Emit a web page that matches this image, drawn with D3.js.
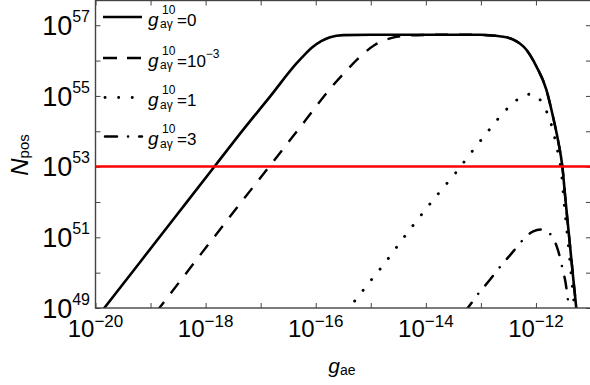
<!DOCTYPE html>
<html>
<head>
<meta charset="utf-8">
<script src="https://cdn.jsdelivr.net/npm/d3@7"></script>
<style>
body { margin: 0; background: #fff; }
svg { display: block; }
text { font-family: "Liberation Sans", Arial, sans-serif; fill: #000; }
</style>
</head>
<body>
<svg width="590" height="385"></svg>
<script>
// values are log10 exponents
const solidG = [-19.9, -18.5, -17.8, -17.32, -16.83, -16.35, -16.2, -16.05, -15.9, -15.74, -15.5, -15.0, -14.0, -13.0, -12.9, -12.66, -12.42, -12.17, -11.99, -11.81, -11.69, -11.6, -11.52, -11.46, -11.39, -11.32, -11.27, -11.25];
const solidN = [48.88, 51.68, 53.08, 54.04, 54.98, 55.92, 56.17, 56.39, 56.55, 56.66, 56.72, 56.73, 56.73, 56.73, 56.72, 56.69, 56.6, 56.3, 55.83, 55.17, 54.41, 53.75, 53.0, 52.0, 50.9, 49.8, 49.04, 48.7];

const dashedG = [-18.9, -17.5, -16.23, -15.74, -15.44, -15.2, -14.93, -14.6, -14.29, -13.8, -13.0, -12.9, -12.66, -12.42, -12.17, -11.99, -11.81, -11.69, -11.6, -11.52, -11.46, -11.39, -11.32, -11.27, -11.25];
const dashedN = [48.88, 51.7, 54.22, 55.2, 55.72, 56.1, 56.44, 56.65, 56.71, 56.73, 56.73, 56.72, 56.69, 56.6, 56.3, 55.83, 55.17, 54.41, 53.75, 53.0, 52.0, 50.9, 49.8, 49.04, 48.7];

const dottedG = [-15.45, -15.23, -15.08, -14.78, -14.3, -13.76, -13.46, -13.17, -12.87, -12.56, -12.39, -12.2, -12.08, -11.97, -11.84, -11.75, -11.68, -11.63, -11.58, -11.54, -11.49, -11.42, -11.35, -11.3, -11.28];
const dottedN = [48.9, 49.32, 49.62, 50.2, 51.2, 52.26, 52.82, 53.41, 54.0, 54.58, 54.83, 55.03, 55.05, 54.97, 54.67, 54.33, 53.96, 53.6, 53.24, 52.87, 52.0, 50.9, 49.8, 49.0, 48.7];

const dashDotG = [-13.3, -13.23, -13.04, -12.84, -12.65, -12.45, -12.24, -12.05, -11.9, -11.8, -11.72, -11.6, -11.52, -11.46, -11.41, -11.39];
const dashDotN = [48.88, 49.02, 49.42, 49.79, 50.17, 50.53, 50.92, 51.17, 51.22, 51.17, 51.05, 50.64, 50.13, 49.7, 49.1, 48.8];

const thresholdN = 53;

const xTickExp = [-20, -19, -18, -17, -16, -15, -14, -13, -12, -11];
const xLabelExp = ["−20", "−18", "−16", "−14", "−12"];
const yTickExp = [49, 50, 51, 52, 53, 54, 55, 56, 57];
const yLabelExp = ["49", "51", "53", "55", "57"];

const legendValues = [["=0", ""], ["=10", "−3"], ["=1", ""], ["=3", ""]];
const dashes = ["none", "13,11", "0.1,13.5", "12,11,0.1,11"];

const svg = d3.select("svg");
const plotL = 95.5, plotR = 591, plotT = 0.5, plotB = 308;

const x = d3.scaleLog().domain([1e-20, 1e-11]).range([plotL, plotR]);
const y = d3.scaleLog().domain([1e49, Math.pow(10, 57.7)]).range([plotB, plotT]);

const p10 = (e) => Math.pow(10, e);
const frameColor = "#444";

// ticks on all four sides, pointing inward
function ticks(axis, tx, ty, vals) {
	svg.append("g")
		.attr("transform", `translate(${tx},${ty})`)
		.call(axis.tickValues(vals).tickSize(-5).tickFormat(""))
		.call((g) => g.select(".domain").remove())
		.call((g) => g.selectAll("line").attr("stroke", frameColor).attr("stroke-width", 1));
}
ticks(d3.axisBottom(x), 0, plotB, xTickExp.map(p10));
ticks(d3.axisTop(x), 0, plotT, xTickExp.map(p10));
ticks(d3.axisLeft(y), plotL, 0, yTickExp.map(p10));
ticks(d3.axisRight(y), plotR, 0, yTickExp.map(p10));

svg.append("clipPath").attr("id", "clip")
	.append("rect").attr("x", plotL).attr("y", plotT)
	.attr("width", plotR - plotL).attr("height", plotB - plotT);

const line = d3.line()
	.x((d) => x(p10(d[0])))
	.y((d) => y(p10(d[1])))
	.curve(d3.curveMonotoneX);

const series = [
	[solidG, solidN],
	[dashedG, dashedN],
	[dottedG, dottedN],
	[dashDotG, dashDotN]
];
const widths = [2.6, 2.4, 2.9, 2.5];

const plot = svg.append("g").attr("clip-path", "url(#clip)");
series.forEach(([gs, ns], i) => {
	plot.append("path")
		.datum(gs.map((g, j) => [g, ns[j]]))
		.attr("d", line)
		.attr("fill", "none")
		.attr("stroke", "#000")
		.attr("stroke-width", widths[i])
		.attr("stroke-linecap", i >= 2 ? "round" : "butt")
		.attr("stroke-dasharray", dashes[i]);
});

plot.append("line")
	.attr("x1", plotL).attr("x2", plotR)
	.attr("y1", y(p10(thresholdN))).attr("y2", y(p10(thresholdN)))
	.attr("stroke", "#f00").attr("stroke-width", 2.5);

svg.append("rect")
	.attr("x", plotL).attr("y", plotT)
	.attr("width", plotR - plotL).attr("height", plotB - plotT)
	.attr("fill", "none").attr("stroke", frameColor).attr("stroke-width", 1.4);

// tick labels
xLabelExp.forEach((e) => {
	const v = +e.replace("−", "-");
	const t = svg.append("text")
		.attr("x", x(p10(v))).attr("y", 337)
		.attr("text-anchor", "middle");
	t.append("tspan").attr("font-size", 24).text("10");
	t.append("tspan").attr("font-size", 17).attr("dy", -10).text(e);
});

yLabelExp.forEach((e) => {
	const t = svg.append("text")
		.attr("x", 90).attr("y", y(p10(+e)) + 9.7)
		.attr("text-anchor", "end");
	t.append("tspan").attr("font-size", 27).text("10");
	t.append("tspan").attr("font-size", 16).attr("dy", -13).text(e);
});

// axis titles
const xt = svg.append("text").attr("x", 342).attr("y", 373).attr("text-anchor", "middle");
xt.append("tspan").attr("font-size", 21).attr("font-style", "italic").text("g");
xt.append("tspan").attr("font-size", 14).attr("dy", 2).text("ae");

const yt = svg.append("text")
	.attr("transform", "translate(28,155) rotate(-90)")
	.attr("text-anchor", "middle");
yt.append("tspan").attr("font-size", 24).attr("font-style", "italic").text("N");
yt.append("tspan").attr("font-size", 15).attr("dy", 1).text("pos");

// legend
const legendY = [17, 58, 97.5, 136.5];
legendValues.forEach(([val, sup], i) => {
	const ly = legendY[i];
	svg.append("line")
		.attr("x1", i >= 2 ? 105 : 103).attr("x2", 142)
		.attr("y1", ly).attr("y2", ly)
		.attr("stroke", "#000").attr("stroke-width", widths[i])
		.attr("stroke-linecap", i >= 2 ? "round" : "butt")
		.attr("stroke-dasharray", i === 1 ? "14,10" : dashes[i]);
	svg.append("text").attr("x", 148).attr("y", ly + 8.5)
		.attr("font-size", 19).attr("font-style", "italic").text("g");
	svg.append("text").attr("x", 162).attr("y", ly - 3.5)
		.attr("font-size", 12).text("10");
	svg.append("text").attr("x", 160).attr("y", ly + 11)
		.attr("font-size", 12).text("aγ");
	const t = svg.append("text").attr("x", 177).attr("y", ly + 8.5);
	t.append("tspan").attr("font-size", 17).text(val);
	if (sup) t.append("tspan").attr("font-size", 12).attr("dy", -9).text(sup);
});
</script>
</body>
</html>
